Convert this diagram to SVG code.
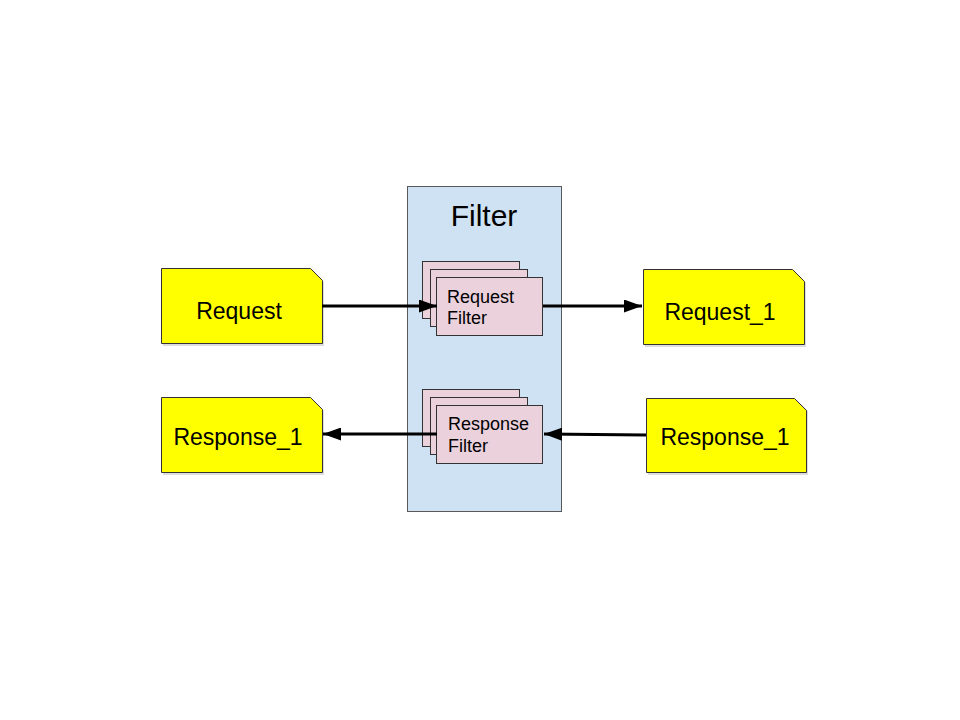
<svg xmlns="http://www.w3.org/2000/svg" width="960" height="720" viewBox="0 0 960 720">
<defs>
<marker id="ah" viewBox="0 0 18 13" refX="18" refY="6.5" markerWidth="18" markerHeight="13" markerUnits="userSpaceOnUse" orient="auto">
<path d="M0,0 L18,6.5 L0,13 z" fill="#000"/>
</marker>
</defs>
<style>
.doc{fill:#ffff00;stroke:#333;stroke-width:1}
.sh{fill:#bbb;opacity:0.5}
.card{fill:#ead1dc;stroke:#333;stroke-width:1}
.t{font-family:"Liberation Sans",Arial,sans-serif;fill:#000}
.big{font-size:23px;text-anchor:middle}
.small{font-size:18px}
.conn{stroke:#000;stroke-width:3;fill:none;marker-end:url(#ah)}
</style>
<rect width="960" height="720" fill="#fff"/>
<g id="filter">
<rect x="407.5" y="186.5" width="154" height="325" fill="#cfe2f3" stroke="#595959"/>
<text class="t" x="484" y="226" font-size="30" text-anchor="middle">Filter</text>
</g>
<g id="request">
<path class="sh" d="M163,271 H313 L324,282 V346 H163 Z"/>
<path class="doc" d="M161.5,268.5 H310.5 L322.5,280.5 V343.5 H161.5 Z"/>
<text class="t big" x="239" y="319">Request</text>
</g>
<g id="request_1">
<path class="sh" d="M645,272 H795 L806,283 V347 H645 Z"/>
<path class="doc" d="M643.5,269.5 H792.5 L804.5,281.5 V344.5 H643.5 Z"/>
<text class="t big" x="720" y="320">Request_1</text>
</g>
<g id="response_1_left">
<path class="sh" d="M163,400 H313 L324,411 V475 H163 Z"/>
<path class="doc" d="M161.5,397.5 H310.5 L322.5,409.5 V472.5 H161.5 Z"/>
<text class="t big" x="238" y="445">Response_1</text>
</g>
<g id="response_1_right">
<path class="sh" d="M648,400 H797 L808,411 V475 H648 Z"/>
<path class="doc" d="M646.5,398.5 H794.5 L806.5,410.5 V472.5 H646.5 Z"/>
<text class="t big" x="725" y="445">Response_1</text>
</g>
<g id="request_filter">
<rect class="card" x="422.5" y="261.5" width="97" height="57"/>
<rect class="card" x="430.5" y="269.5" width="97" height="57"/>
<rect class="card" x="436.5" y="277.5" width="106" height="58"/>
<text class="t small" x="447" y="303">Request</text>
<text class="t small" x="447" y="324">Filter</text>
</g>
<g id="response_filter">
<rect class="card" x="422.5" y="389.5" width="97" height="57"/>
<rect class="card" x="430.5" y="397.5" width="97" height="57"/>
<rect class="card" x="436.5" y="405.5" width="106" height="58"/>
<text class="t small" x="448" y="430">Response</text>
<text class="t small" x="448" y="452">Filter</text>
</g>
<g id="connectors">
<line class="conn" x1="322" y1="306" x2="437" y2="306"/>
<line class="conn" x1="543" y1="306" x2="642" y2="306"/>
<line class="conn" x1="646" y1="435" x2="544" y2="434"/>
<line class="conn" x1="437" y1="434" x2="323" y2="434"/>
</g>
</svg>
